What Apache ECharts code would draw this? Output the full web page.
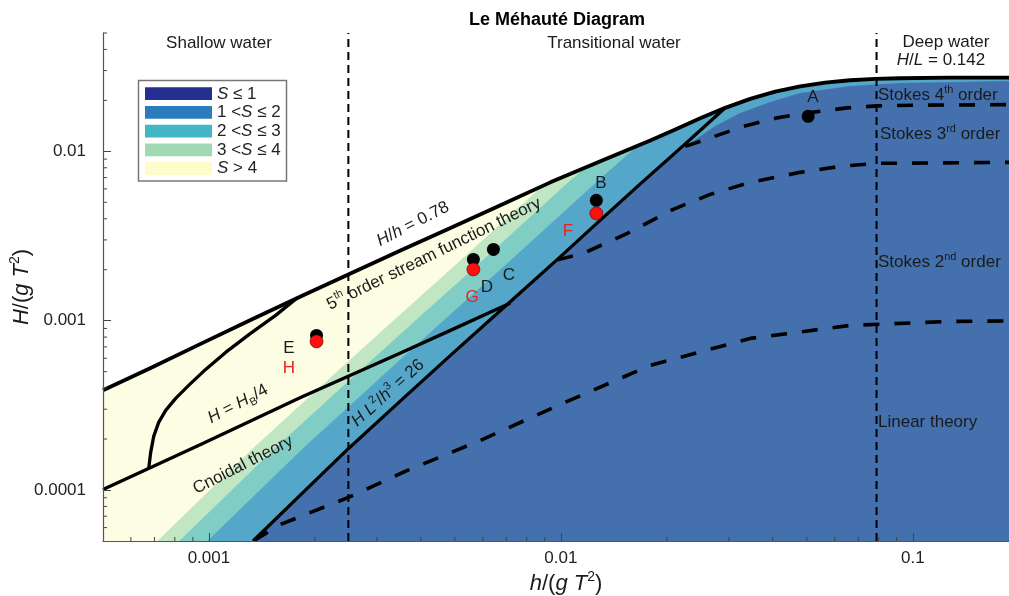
<!DOCTYPE html>
<html><head><meta charset="utf-8">
<script src="https://cdn.jsdelivr.net/npm/echarts@6/dist/echarts.min.js"></script>
<style>html,body{margin:0;padding:0;background:#fff}#c{width:1009px;height:596px}</style>
</head><body><div id="c"></div>
<script>
// ---------------- data ----------------
const X_RANGE = [0.0005, 0.1877];
const Y_RANGE = [0.00005, 0.05];

// breaking limit (H/h = 0.78 in shallow water, H/L = 0.142 in deep water)
const breakingCurve = [[0.0005,0.000388],[0.000683,0.000526],[0.000947,0.00073],[0.001313,0.00101],[0.001821,0.00139],[0.002525,0.0019],[0.003502,0.0026],[0.004857,0.00353],[0.006735,0.0048],[0.009337,0.00656],[0.01295,0.00873],[0.01795,0.01161],[0.02114,0.01348],[0.02489,0.01567],[0.02931,0.01807],[0.03452,0.02042],[0.04065,0.02251],[0.04786,0.02422],[0.05636,0.02545],[0.06638,0.02630],[0.07816,0.02678],[0.09204,0.02703],[0.1276,0.02722],[0.1877,0.02725]];
// H L^2/h^3 = 26
const ursellLine = [[0.001335,0.00005],[0.001821,0.00009356],[0.002493,0.0001761],[0.003502,0.000336],[0.004857,0.0006239],[0.006735,0.00115],[0.00971,0.002271],[0.012696,0.003781],[0.016815,0.006428],[0.022276,0.010777],[0.029314,0.01807]];
// S = 1 boundary where it leaves the Ursell line
const s1Upper = [[0.01981,0.008495],[0.02332,0.011149],[0.027459,0.014047],[0.032336,0.016766],[0.039341,0.019472],[0.047864,0.02201],[0.066378,0.024205],[0.09204,0.025213],[0.1877,0.025917]];
const s2Boundary = [[0.000992,0.00005],[0.001353,0.00009356],[0.001852,0.0001761],[0.002602,0.000336],[0.003608,0.0006239],[0.005003,0.00115],[0.007213,0.002271],[0.009431,0.003781],[0.012491,0.006428],[0.01655,0.01078]];
const s3Boundary = [[0.000825,0.00005],[0.001126,0.00009356],[0.001541,0.0001761],[0.002165,0.000336],[0.003003,0.0006239],[0.004164,0.00115],[0.006004,0.002271],[0.00785,0.003781],[0.010397,0.006428],[0.01189,0.00815]];
const s4Boundary = [[0.000715,0.00005],[0.000975,0.00009356],[0.001335,0.0001761],[0.001875,0.000336],[0.002601,0.0006239],[0.003606,0.00115],[0.005199,0.002271],[0.006798,0.003781],[0.00887,0.00625]];
// H = H_B/4
const quarterBreakingLine = [[0.0005,0.0001008],[0.000947,0.0001859],[0.001821,0.0003524],[0.003502,0.0006454],[0.004857,0.0008766],[0.007189,0.001274]];
// cnoidal / stream function boundary
const cnoidalBoundary = [[0.0006744,0.0001342],[0.0006831,0.0001668],[0.0006967,0.0002073],[0.0007198,0.0002508],[0.0007536,0.0002953],[0.0008043,0.0003476],[0.0008759,0.0004148],[0.0009787,0.0005156],[0.001115,0.0006498],[0.001313,0.0008415],[0.001547,0.001075],[0.001774,0.001354]];
// Stokes order boundaries
const stokes4Boundary = [[0.022569,0.010704],[0.027102,0.012181],[0.032975,0.014047],[0.041181,0.015772],[0.050432,0.016881],[0.065088,0.01807],[0.079195,0.018567],[0.10489,0.018745],[0.1877,0.018872]];
const stokes3Boundary = [[0.0097738,0.0022864],[0.011585,0.0024974],[0.015447,0.0032783],[0.020863,0.0045444],[0.026576,0.0055719],[0.034521,0.00656],[0.047864,0.0075164],[0.062177,0.0081539],[0.07894,0.008495],[0.1877,0.0086102]];
const stokes2Boundary = [[0.001344,0.0000504],[0.0015981,0.00006264],[0.0024925,0.00009043],[0.003666,0.0001306],[0.0059063,0.0001963],[0.0099674,0.0003203],[0.017953,0.0005445],[0.034521,0.0007861],[0.066378,0.0009381],[0.12763,0.0009905],[0.1877,0.0009973]];
// shallow / deep water limits
const shallowLimitX = 0.00249;
const deepLimitX = 0.0789;
// measured points
const blackPointNames = ['A','B','C','D','E'];
const blackPoints = [[0.05043,0.0161],[0.012614,0.005135],[0.006433,0.002637],[0.005642,0.002302],[0.002022,0.000819]];
const redPointNames = ['F','G','H'];
const redPoints = [[0.012614,0.004303],[0.005642,0.002009],[0.002022,0.0007547]];
// minor ticks
const minorTicksX = [0.0006,0.0007,0.0008,0.0009,0.002,0.003,0.004,0.005,0.006,0.007,0.008,0.009,0.02,0.03,0.04,0.05,0.06,0.07,0.08,0.09];
const minorTicksY = [0.00006,0.00007,0.00008,0.00009,0.0002,0.0003,0.0004,0.0005,0.0006,0.0007,0.0008,0.0009,0.002,0.003,0.004,0.005,0.006,0.007,0.008,0.009,0.02,0.03,0.04,0.05];
// legend
const legendLabels = ['{i|S}{n| ≤ 1}','{n|1 <}{i|S}{n| ≤ 2}','{n|2 <}{i|S}{n| ≤ 3}','{n|3 <}{i|S}{n| ≤ 4}','{i|S}{n| > 4}'];

// ---------------- styles ----------------
const FONT = 'Liberation Sans, Arial, Helvetica, sans-serif';
const bandColors = {s4: '#fdfde3', s3: '#c0e6c4', s2: '#80cdc6', s1: '#55a7ca', s0: '#4471ae'};
const legendColors = ['#252f8f','#2b7cbb','#41b6c5','#a1d9b5','#fdfdcb'];
const TXT = '#1a1a1a';

function rich(size, color) {
  const sup = Math.round(size * 0.65);
  return {
    n: {fontSize: size, fontFamily: FONT, color: color, lineHeight: size + 5},
    i: {fontSize: size, fontFamily: FONT, color: color, fontStyle: 'italic', lineHeight: size + 5},
    sup: {fontSize: sup, fontFamily: FONT, color: color, lineHeight: sup + 1, verticalAlign: 'top'},
    sub: {fontSize: sup, fontFamily: FONT, color: color, lineHeight: sup + 1, verticalAlign: 'bottom'}
  };
}
function txt(x, y, text, opts) {
  opts = opts || {};
  const size = opts.size || 17;
  return {
    type: 'text', x: x, y: y, z: 100, silent: true,
    rotation: (opts.rot || 0) * Math.PI / 180,
    style: {text: text, align: opts.align || 'center', verticalAlign: 'middle',
            rich: rich(size, opts.color || TXT), fill: opts.color || TXT,
            font: (opts.bold ? 'bold ' : '') + size + 'px ' + FONT}
  };
}

const xMax = X_RANGE[1], yMin = Y_RANGE[0], xMin = X_RANGE[0];
function regionRight(boundary) {
  const lastX = boundary[boundary.length - 1][0];
  return boundary.concat(breakingCurve.filter(p => p[0] > lastX)).concat([[xMax, yMin]]);
}
const s1Boundary = ursellLine.slice(0, 9).concat(s1Upper);
const polygons = [
  {pts: breakingCurve.concat([[xMax, yMin], [xMin, yMin]]), color: bandColors.s4},
  {pts: regionRight(s4Boundary), color: bandColors.s3},
  {pts: regionRight(s3Boundary), color: bandColors.s2},
  {pts: regionRight(s2Boundary), color: bandColors.s1},
  {pts: regionRight(s1Boundary), color: bandColors.s0}
];

const series = [];
polygons.forEach((pg, k) => {
  series.push({
    type: 'custom', coordinateSystem: 'cartesian2d', silent: true, clip: true, z: 1 + k * 0.01,
    data: [[0.001, 0.001]],
    renderItem: (params, api) => ({
      type: 'polygon', shape: {points: pg.pts.map(p => api.coord(p))},
      style: {fill: pg.color, stroke: pg.color, lineWidth: 0.5}
    })
  });
});
function lineS(data, width, dash, z) {
  return {type: 'line', data: data, showSymbol: false, symbol: 'none', silent: true, z: z || 5,
    lineStyle: {color: '#000', width: width, type: dash || 'solid', cap: 'butt', join: 'round'}};
}
series.push(lineS([[shallowLimitX, Y_RANGE[0]], [shallowLimitX, Y_RANGE[1]]], 2, [8, 5]));
series.push(lineS([[deepLimitX, Y_RANGE[0]], [deepLimitX, Y_RANGE[1]]], 2, [8, 5]));
series.push(lineS(stokes4Boundary, 3.6, [16, 15]));
series.push(lineS(stokes3Boundary, 3.6, [16, 15]));
series.push(lineS(stokes2Boundary, 3.6, [16, 15]));
series.push(lineS(quarterBreakingLine, 3.3));
series.push(lineS(cnoidalBoundary, 3.3));
series.push(lineS(ursellLine, 3.3));
series.push(lineS(breakingCurve, 3.8));

series.push({
  type: 'scatter', symbol: 'circle', symbolSize: 13, z: 8, silent: true,
  itemStyle: {color: '#000', opacity: 1},
  data: blackPoints.map((p, i) => ({value: p, name: blackPointNames[i]}))
});
series.push({
  type: 'scatter', symbol: 'circle', symbolSize: 13, z: 9, silent: true,
  itemStyle: {color: '#ff1010', opacity: 1, borderColor: '#500', borderWidth: 0.6},
  data: redPoints.map((p, i) => ({value: p, name: redPointNames[i]}))
});
// minor ticks
series.push({
  type: 'custom', coordinateSystem: 'cartesian2d', silent: true, clip: false, z: 20,
  data: minorTicksX.map(v => [v, yMin]),
  renderItem: (params, api) => {
    const p = api.coord([api.value(0), api.value(1)]);
    return {type: 'line', shape: {x1: p[0], y1: p[1], x2: p[0], y2: p[1] - 4}, style: {stroke: '#444', lineWidth: 1}};
  }
});
series.push({
  type: 'custom', coordinateSystem: 'cartesian2d', silent: true, clip: false, z: 20,
  data: minorTicksY.map(v => [xMin, v]),
  renderItem: (params, api) => {
    const p = api.coord([api.value(0), api.value(1)]);
    return {type: 'line', shape: {x1: p[0], y1: p[1], x2: p[0] + 4, y2: p[1]}, style: {stroke: '#444', lineWidth: 1}};
  }
});

const fmt = v => String(+(+v).toPrecision(1));
const axisCommon = {
  type: 'log', logBase: 10, z: 30,
  splitLine: {show: false},
  axisLine: {show: true, lineStyle: {color: '#555', width: 1.2}},
  axisTick: {show: true, inside: true, length: 8, lineStyle: {color: '#444', width: 1}},
  axisLabel: {showMinLabel: false, showMaxLabel: false, fontSize: 17, color: '#222', fontFamily: FONT, formatter: fmt}
};

// labels for the points
const pointLabels = [
  ['A', 813, 97, TXT], ['B', 601, 183, TXT], ['C', 509, 275, TXT], ['D', 487, 287, TXT], ['E', 289, 348, TXT],
  ['F', 568, 231, '#e8221c'], ['G', 472, 297, '#e8221c'], ['H', 289, 368, '#e8221c']
];

const graphics = [
  txt(557, 20, 'Le Méhauté Diagram', {size: 18, bold: true, color: '#000'}),
  txt(219, 43, '{n|Shallow water}'),
  txt(614, 43, '{n|Transitional water}'),
  txt(946, 42, '{n|Deep water}'),
  txt(941, 60, '{i|H}{n|/}{i|L}{n| = 0.142}'),
  txt(878, 95, '{n|Stokes 4}{sup|th}{n| order}', {align: 'left'}),
  txt(880, 134, '{n|Stokes 3}{sup|rd}{n| order}', {align: 'left'}),
  txt(878, 262, '{n|Stokes 2}{sup|nd}{n| order}', {align: 'left'}),
  txt(878, 422, '{n|Linear theory}', {align: 'left'}),
  txt(413, 224, '{i|H}{n|/}{i|h}{n| = 0.78}', {rot: 27}),
  txt(434, 254, '{n|5}{sup|th}{n| order stream function theory}', {rot: 26}),
  txt(238, 404, '{i|H}{n| = }{i|H}{sub|B}{n|/4}', {rot: 28}),
  txt(243, 465, '{n|Cnoidal theory}', {rot: 27}),
  txt(388, 393, '{i|H L}{sup|2}{n|/}{i|h}{sup|3}{n| = 26}', {rot: 42}),
  txt(566, 584, '{i|h}{n|/(}{i|g T}{sup|2}{n|)}', {size: 22}),
  txt(22, 287, '{i|H}{n|/(}{i|g T}{sup|2}{n|)}', {size: 22, rot: 90})
];
pointLabels.forEach(l => graphics.push(txt(l[1], l[2], '{n|' + l[0] + '}', {color: l[3]})));
// legend box
graphics.push({type: 'rect', z: 90, silent: true, shape: {x: 138.5, y: 80.5, width: 148, height: 100.5},
  style: {fill: '#fff', stroke: '#777', lineWidth: 1.5}});
legendLabels.forEach((lab, i) => {
  const top = 87.3 + i * 18.7;
  graphics.push({type: 'rect', z: 91, silent: true, shape: {x: 145, y: top, width: 67, height: 12.8},
    style: {fill: legendColors[i]}});
  graphics.push(txt(217, top + 6.6, lab, {align: 'left', color: '#222'}));
});

const chart = echarts.init(document.getElementById('c'), null, {renderer: 'canvas'});
chart.setOption({
  animation: false,
  backgroundColor: '#fff',
  textStyle: {fontFamily: FONT},
  grid: {left: 103, right: 0, top: 33, height: 508, containLabel: false},
  xAxis: Object.assign({}, axisCommon, {min: X_RANGE[0], max: X_RANGE[1],
    axisLabel: Object.assign({}, axisCommon.axisLabel, {margin: 9})}),
  yAxis: Object.assign({}, axisCommon, {min: Y_RANGE[0], max: Y_RANGE[1],
    axisLabel: Object.assign({}, axisCommon.axisLabel, {margin: 17})}),
  series: series,
  graphic: {elements: graphics}
});
</script></body></html>
